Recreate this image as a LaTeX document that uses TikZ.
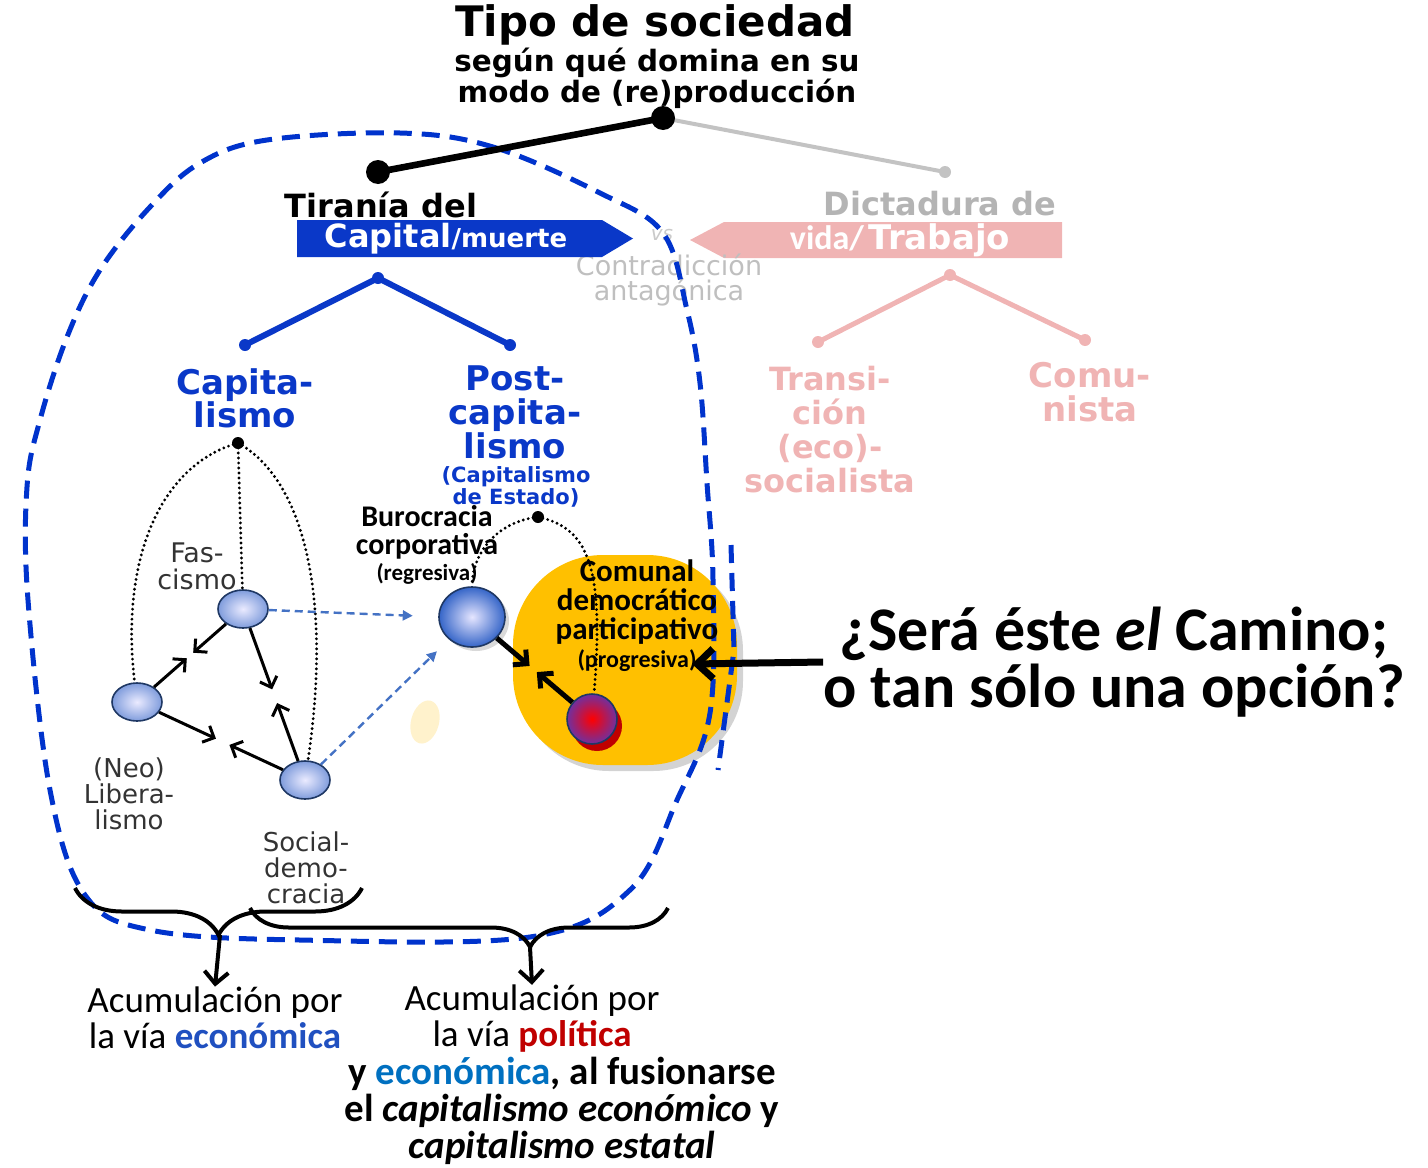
\documentclass[tikz,border=0pt]{standalone}
\usepackage{fontspec}
\setmainfont{Carlito}
\newfontfamily\verd{DejaVu Sans}
\usepackage{xcolor}
\definecolor{capBlue}{HTML}{0A38C8}
\definecolor{loopBlue}{HTML}{0033CC}
\definecolor{linkBlue}{HTML}{4472C4}
\definecolor{workPink}{HTML}{F0B4B4}
\definecolor{fadeGray}{HTML}{B4B4B4}
\definecolor{blobGold}{HTML}{FFC000}
\definecolor{ecoBlue}{HTML}{2050C0}
\definecolor{ecoCyan}{HTML}{0070C0}
\definecolor{polRed}{HTML}{C00000}
\definecolor{navyRim}{HTML}{1F3864}
\definecolor{purpDeep}{HTML}{7030A0}
\definecolor{faintYel}{HTML}{FFF2CC}
\definecolor{sphereBlue}{HTML}{3565C8}
\definecolor{ovalBlue}{HTML}{7F9CDC}
\usetikzlibrary{arrows.meta,calc,shapes.geometric,decorations.pathreplacing,shadows}

% font shortcuts: size, baselineskip
\newcommand\vbf[2]{\verd\bfseries\fontsize{#1}{#2}\selectfont}
\newcommand\vrg[2]{\verd\fontsize{#1}{#2}\selectfont}
\newcommand\cbf[2]{\bfseries\fontsize{#1}{#2}\selectfont}
\newcommand\crg[2]{\fontsize{#1}{#2}\selectfont}

\tikzset{
  lbl/.style={inner sep=0pt, align=center},
  oval/.style={ellipse, draw=navyRim, line width=0.8pt, minimum width=25pt, minimum height=19pt,
    inner sep=0pt, inner color=blue!8!white, outer color=ovalBlue},
  arr/.style={-{Straight Barb[length=4.5pt,width=9pt]}, line width=1.5pt},
  arrb/.style={-{Straight Barb[length=5pt,width=10pt]}, line width=2.5pt},
  bigarr/.style={-{Straight Barb[length=8pt,width=15pt]}, line width=3.5pt},
  downarr/.style={-{Straight Barb[length=6pt,width=12pt]}, line width=2pt},
  lnk/.style={linkBlue, line width=1.2pt, dash pattern=on 4pt off 2.5pt, -{Triangle[length=5pt,width=5pt]}},
  dotln/.style={line width=1.6pt, dash pattern=on 0pt off 2.5pt, line cap=round},
  loopln/.style={loopBlue, line width=2.5pt, dash pattern=on 9pt off 5pt},
  brc/.style={decorate, decoration={brace, mirror, amplitude=#1}, line width=2pt},
  blob/.style={rounded corners=45pt, fill=blobGold, minimum width=112pt, minimum height=105pt,
    drop shadow={shadow xshift=3pt, shadow yshift=-3pt, opacity=.35}},
}

\begin{document}
\begin{tikzpicture}[x=0.5pt,y=-0.5pt]
\useasboundingbox (0,0) rectangle (1428,1167);

% heading
\node[lbl, font=\vbf{21}{22}] (title) at (655,25) {Tipo de sociedad};
\node[lbl, font=\vbf{14.7}{15.5}] (subtitle) at (657,78) {según qué domina en su\\modo de (re)producción};

% faded side: trabajo
\node[lbl, font=\vbf{16}{17}, text=fadeGray] (dict) at (940,204) {Dictadura de};
\fill[workPink] (690,240) -- (724,222) -- (1062,222) -- (1062,258) -- (724,258) -- cycle;
\node[lbl, text=white] (trabajo) at (900,240) {{\cbf{17}{17}vida/} {\vbf{17}{17}Trabajo}};
\coordinate (papex) at (950,275);
\coordinate (pl) at (818,342);
\coordinate (pr) at (1085,340);
\draw[workPink, line width=2.5pt, line join=round] (pl) -- (papex) -- (pr);
\foreach \p in {papex,pl,pr} \fill[workPink] (\p) circle[radius=3pt];
\node[lbl, font=\vbf{16}{17}, text=workPink] (transi) at (830,430) {Transi-\\ción\\(eco)-\\socialista};
\node[lbl, font=\vbf{17}{17}, text=workPink] (comu) at (1090,392) {Comu-\\nista};
\node[lbl, font=\vrg{13.5}{12.5}, text=fadeGray!85] (contra) at (669,280) {Contradicción\\antagónica};
\node[lbl, font=\verd\itshape\fontsize{10}{10}\selectfont, text=fadeGray!70] (vs) at (662,235) {vs};

% capital side
\node[lbl, font=\vbf{16}{17}] (tirania) at (381,205) {Tiranía del};
\fill[capBlue] (297,220) -- (602,220) -- (633,238.5) -- (602,257) -- (297,257) -- cycle;
\node[lbl, text=white] (capital) at (446,239) {{\vbf{16}{16}Capital}{\vbf{13}{13}/muerte}};
\coordinate (bapex) at (378,278);
\coordinate (bl) at (245,345);
\coordinate (br) at (510,345);
\draw[capBlue, line width=3pt, line join=round] (bl) -- (bapex) -- (br);
\foreach \p in {bapex,bl,br} \fill[capBlue] (\p) circle[radius=3pt];
\node[lbl, font=\vbf{17}{16.5}, text=capBlue] (capita) at (245,398) {Capita-\\lismo};
\node[lbl, font=\vbf{17}{17}, text=capBlue] (post) at (515,412) {Post-\\capita-\\lismo};
\node[lbl, font=\vbf{10.5}{9.5}, text=capBlue] (estado) at (516,487) {(Capitalismo\\de Estado)};

% comunal blob and the dashed loop
\node[blob] (blob) at (625,660) {};
\fill[faintYel, rotate around={-15:(425,722)}] (425,722) ellipse[x radius=7pt, y radius=11pt];
\draw[loopln] plot[smooth cycle, tension=0.6] coordinates {
  (400,133) (493,147) (600,193) (663,233) (687,310) (700,383) (707,483) (713,580)
  (710,713) (677,800) (630,890) (530,937) (300,940) (150,930) (85,895) (50,790)
  (28,600) (27,487) (40,420) (67,337) (100,270) (150,207) (200,163) (267,140)};
\draw[loopln] (731,545) -- (734,650) -- (718,770);

% root line
\coordinate (tdot) at (663,118);
\coordinate (ldot) at (378,172);
\coordinate (rdot) at (945,172);
\draw[fadeGray!80, line width=2pt] (tdot) -- (rdot);
\fill[fadeGray!80] (rdot) circle[radius=3pt];
\draw[line width=3.3pt] (ldot) -- (tdot);
\fill (ldot) circle[radius=6pt];
\fill (tdot) circle[radius=6pt];

% capitalismo cycle
\coordinate (cap) at (238,443);
\node[oval] (fas) at (243,609) {};
\node[oval] (neo) at (137,702) {};
\node[oval] (soc) at (305,780) {};
\fill (cap) circle[radius=3pt];
\draw[dotln] (cap) .. controls (160,465) and (120,560) .. (neo);
\draw[dotln] (cap) -- (fas);
\draw[dotln] (cap) .. controls (305,480) and (332,600) .. (soc);
\draw[arr] (fas) -- ($(fas)!.47!(neo)$);
\draw[arr] (neo) -- ($(neo)!.47!(fas)$);
\draw[arr] (fas) -- ($(fas)!.47!(soc)$);
\draw[arr] (soc) -- ($(soc)!.45!(fas)$);
\draw[arr] (neo) -- ($(neo)!.47!(soc)$);
\draw[arr] (soc) -- ($(soc)!.45!(neo)$);
\node[lbl, font=\vrg{13.5}{13.5}, text=black!80] (fasl) at (197,566) {Fas-\\cismo};
\node[lbl, font=\vrg{13}{13}, text=black!80] (neol) at (129,794) {(Neo)\\Libera-\\lismo};
\node[lbl, font=\vrg{13}{13}, text=black!80] (socl) at (306,868) {Social-\\demo-\\cracia};

% post-capitalismo pair
\coordinate (bdot) at (538,517);
\node[ellipse, draw=navyRim, line width=0.8pt, minimum width=33pt, minimum height=30pt, inner sep=0pt,
  inner color=blue!10!white, outer color=sphereBlue,
  drop shadow={shadow xshift=2pt, shadow yshift=-2pt, opacity=.3}] (buro) at (472,617) {};
\fill[red!75!black] (597,726) circle[radius=12.5pt];
\node[circle, draw=navyRim, line width=0.8pt, minimum size=25pt, inner sep=0pt,
  inner color=red, outer color=purpDeep] (pur) at (592,719) {};
\fill (bdot) circle[radius=3pt];
\draw[dotln] (bdot) .. controls (495,522) and (472,555) .. (buro);
\draw[dotln] (bdot) .. controls (590,528) and (604,570) .. (pur);
\draw[lnk] (fas) -- ($(fas.east)!.85!(buro.west)$);
\draw[lnk] (soc) -- ($(soc)!.79!(buro)$);
\draw[arrb] (buro) -- ($(buro)!.48!(pur)$);
\draw[arrb] (pur) -- ($(pur)!.46!(buro)$);
\node[lbl, font=\cbf{15}{14}] (burol) at (427,532) {Burocracia\\corporativa};
\node[lbl, font=\cbf{11.5}{11.5}] (regre) at (427,574) {(regresiva)};
\node[lbl, font=\cbf{15.5}{14.5}] (comunal) at (637,602) {Comunal\\democrático\\participativo};
\node[lbl, font=\cbf{12}{12}] (progre) at (637,661) {(progresiva)};

% question
\node[lbl, font=\cbf{31}{28.5}] (question) at (1114,662) {¿Será éste \textit{el} Camino;\\o tan sólo una opción?};
\coordinate (qtip) at (692,664);
\draw[bigarr] (question.west) -- (qtip);

% braces and accumulation notes
\draw[brc=23.5pt] (75,888) -- (362,888);
\draw[brc=19.5pt, decoration={aspect=0.67}] (250,908) -- (668,908);
\coordinate (cuspE) at (220,935);
\coordinate (cuspP) at (530,947);
\node[lbl, font=\crg{18.5}{18}] (acumE) at (215,1018)
  {Acumulación por\\la vía \textcolor{ecoBlue}{\textbf{económica}}};
\node[lbl, font=\crg{18.5}{18}] (acumP) at (532,1019)
  {Acumulación por\\la vía \textcolor{polRed}{\textbf{política}}};
\node[lbl, font=\cbf{19.5}{18.5}] (fusion) at (562,1111)
  {y \textcolor{ecoCyan}{económica}, al fusionarse\\el \textit{capitalismo económico} y\\\textit{capitalismo estatal}};
\draw[downarr] (cuspE) -- (acumE.north);
\draw[downarr] (cuspP) -- (acumP.north);
\end{tikzpicture}
\end{document}
